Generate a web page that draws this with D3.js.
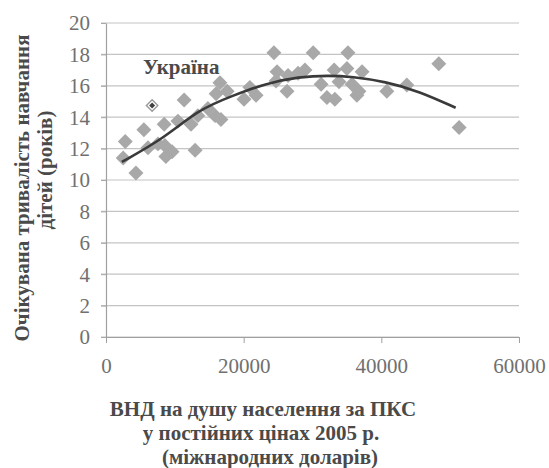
<!DOCTYPE html>
<html>
<head>
<meta charset="utf-8">
<script src="https://cdn.jsdelivr.net/npm/d3@7"></script>
<style>
  body { margin: 0; background: #fff; }
</style>
</head>
<body>
<div id="chart"></div>
<script>
// GNI per capita (PPP, 2005 int. $)
var gniX = [2500, 2800, 4350, 5500, 6100, 7550, 8450, 8550, 8700, 9600,
    10450, 12350, 11350, 12950, 13350, 14800, 15850, 16700, 16550, 17600,
    16000, 20050, 20900, 21800, 24400, 30100, 35150, 24850, 26450, 26300,
    27900, 28900, 24700, 31250, 32100, 33150, 35000, 37200, 33850, 35750,
    36450, 36750, 33250, 40800, 43700, 48350, 51300];

// expected years of schooling
var schoolY = [11.4, 12.45, 10.45, 13.2, 12.05, 12.3, 13.55, 12.2, 11.5, 11.8,
    13.75, 13.55, 15.1, 11.9, 14.1, 14.55, 14.1, 13.85, 16.2, 15.65,
    15.5, 15.15, 15.9, 15.4, 18.1, 18.1, 18.1, 16.9, 16.65, 15.65,
    16.8, 17.0, 16.3, 16.1, 15.25, 17.0, 17.1, 16.9, 16.25, 16.1,
    15.4, 15.65, 15.15, 15.65, 16.05, 17.4, 13.35];

var ukraineX = 6700;
var ukraineY = 14.75;

// polynomial trend line
var trendX = [2300, 8400, 13500, 18300, 23200, 28000, 32400, 35700, 40600, 45500, 50800];
var trendY = [11.15, 12.65, 14.5, 15.35, 16.15, 16.58, 16.66, 16.58, 16.27, 15.65, 14.6];

var xTicks = [0, 20000, 40000, 60000];
var yTicks = [0, 2, 4, 6, 8, 10, 12, 14, 16, 18, 20];

var serif = '"Liberation Serif", "Times New Roman", "DejaVu Serif", serif';

var svgWidth = 549;
var svgHeight = 468;

var margin = { top: 23, bottom: 131, left: 106, right: 30 };
var width = svgWidth - margin.left - margin.right;
var height = svgHeight - margin.top - margin.bottom;

var svg = d3.select("#chart")
    .append("svg")
    .attr("width", svgWidth)
    .attr("height", svgHeight);

var chartGroup = svg.append("g")
    .attr("transform", `translate(${margin.left}, ${margin.top})`);

var xScale = d3.scaleLinear().domain([0, 60000]).range([0, width]);
var yScale = d3.scaleLinear().domain([0, 20]).range([height, 0]);

// horizontal gridlines
chartGroup.append("g")
    .selectAll("line")
    .data(yTicks)
    .enter()
    .append("line")
    .attr("x1", -5)
    .attr("x2", width)
    .attr("y1", d => yScale(d))
    .attr("y2", d => yScale(d))
    .attr("stroke", "#c4c4c4")
    .attr("stroke-width", 1.2);

// y axis
var leftAxis = d3.axisLeft(yScale)
    .tickValues(yTicks)
    .tickSize(5)
    .tickSizeOuter(0)
    .tickPadding(11);

var yAxisG = chartGroup.append("g").call(leftAxis).attr("font-family", serif);
yAxisG.selectAll("text")
    .style("font-family", serif)
    .style("font-size", "21px")
    .attr("fill", "#707070")
    .attr("dy", "0.33em");
yAxisG.selectAll("line").attr("stroke", "#a8a8a8");
yAxisG.select(".domain").attr("stroke", "#a0a0a0").attr("stroke-width", 1.2);

// x axis
var bottomAxis = d3.axisBottom(xScale)
    .tickValues(xTicks)
    .tickFormat(d3.format("d"))
    .tickSize(6)
    .tickSizeOuter(0)
    .tickPadding(15);

var xAxisG = chartGroup.append("g")
    .attr("transform", `translate(0, ${height})`)
    .call(bottomAxis)
    .attr("font-family", serif);
xAxisG.selectAll("text")
    .style("font-family", serif)
    .style("font-size", "21px")
    .attr("fill", "#707070");
xAxisG.selectAll("line").attr("stroke", "#a0a0a0");
xAxisG.select(".domain").attr("stroke", "#a0a0a0").attr("stroke-width", 1.2);

// scatter diamonds
var diamond = d3.symbol().type(d3.symbolSquare).size(112);

chartGroup.append("g")
    .selectAll("path")
    .data(gniX)
    .enter()
    .append("path")
    .attr("d", diamond)
    .attr("transform", (d, i) => `translate(${xScale(d)}, ${yScale(schoolY[i])}) rotate(45)`)
    .attr("fill", "#a8a8a8");

// trend line
var trendLine = d3.line()
    .x(d => xScale(d[0]))
    .y(d => yScale(d[1]))
    .curve(d3.curveBasis);

chartGroup.append("path")
    .datum(d3.zip(trendX, trendY))
    .attr("d", trendLine)
    .attr("fill", "none")
    .attr("stroke", "#3a3a3a")
    .attr("stroke-width", 2.6);

// Ukraine marker
var uk = chartGroup.append("g")
    .attr("transform", `translate(${xScale(ukraineX)}, ${yScale(ukraineY)}) rotate(45)`);
uk.append("path").attr("d", d3.symbol().type(d3.symbolSquare).size(90)).attr("fill", "#9a9a9a");
uk.append("path").attr("d", d3.symbol().type(d3.symbolSquare).size(45)).attr("fill", "#ffffff");
uk.append("path").attr("d", d3.symbol().type(d3.symbolSquare).size(18)).attr("fill", "#404040");

function title(sel) {
    return sel.style("font-family", serif)
        .style("font-weight", "bold")
        .style("font-size", "21px")
        .attr("fill", "#4a4a4a");
}

chartGroup.append("text")
    .attr("x", 37)
    .attr("y", 51)
    .call(title)
    .text("Україна");

// y axis title (two lines)
svg.append("text")
    .attr("transform", "translate(29, 188) rotate(-90)")
    .attr("text-anchor", "middle")
    .call(title)
    .text("Очікувана тривалість навчання");

svg.append("text")
    .attr("transform", "translate(52, 170) rotate(-90)")
    .attr("text-anchor", "middle")
    .call(title)
    .text("дітей (років)");

// x axis title (three lines)
var xTitle = ["ВНД на душу населення за ПКС", "у постійних цінах 2005 р.", "(міжнародних доларів)"];
svg.append("g")
    .selectAll("text")
    .data(xTitle)
    .enter()
    .append("text")
    .attr("x", (d, i) => [263, 261, 270][i])
    .attr("y", (d, i) => 416 + i * 24)
    .attr("text-anchor", "middle")
    .call(title)
    .text(d => d);
</script>
</body>
</html>
